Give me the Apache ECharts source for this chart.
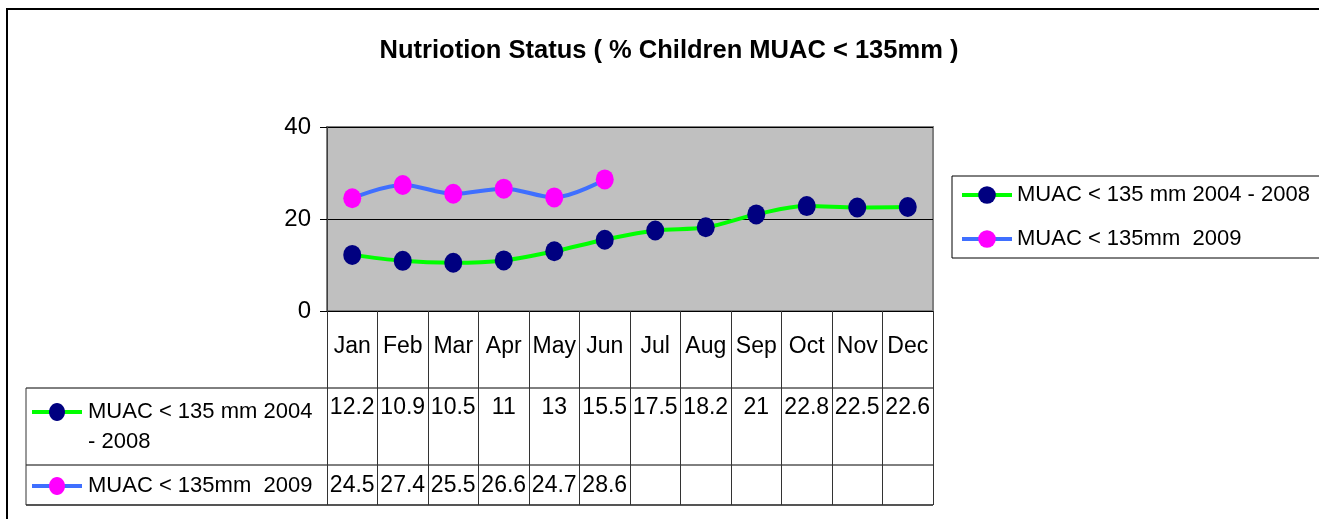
<!DOCTYPE html>
<html>
<head>
<meta charset="utf-8">
<script src="https://cdn.jsdelivr.net/npm/echarts@6/dist/echarts.min.js"></script>
<style>
  html, body { margin: 0; padding: 0; background: #fff; }
  #main { width: 1319px; height: 519px; }
</style>
</head>
<body>
<div id="main"></div>
<script>
var categories = ['Jan', 'Feb', 'Mar', 'Apr', 'May', 'Jun', 'Jul', 'Aug', 'Sep', 'Oct', 'Nov', 'Dec']
var muac20042008 = [12.2, 10.9, 10.5, 11, 13, 15.5, 17.5, 18.2, 21, 22.8, 22.5, 22.6]
var muac2009 = [24.5, 27.4, 25.5, 26.6, 24.7, 28.6]
var seriesNames = ['MUAC < 135 mm 2004 - 2008', 'MUAC < 135mm  2009']
var lineColors = ['#00ff00', '#3f6fff']
var markerColors = ['#000080', '#ff00ff']
var yMin = 0
var yMax = 40
var yStep = 20

var font = 'Liberation Sans, Arial, sans-serif'
var chart = echarts.init(document.getElementById('main'))

function lineSeries (idx, data) {
  return {
    name: seriesNames[idx],
    type: 'line',
    data: data,
    smooth: 0.35,
    symbol: 'circle',
    symbolSize: [18, 20],
    lineStyle: { color: lineColors[idx], width: 4 },
    itemStyle: { color: markerColors[idx] },
    color: markerColors[idx],
    z: idx === 1 ? 4 : 3
  }
}

chart.setOption({
  animation: false,
  title: {
    text: 'Nutriotion Status ( % Children MUAC < 135mm )',
    left: 669,
    textAlign: 'center',
    top: 38,
    padding: 0,
    textStyle: { fontFamily: font, fontSize: 25.5, fontWeight: 'bold', color: '#000' }
  },
  legend: {
    orient: 'vertical',
    left: 952,
    top: 176,
    padding: [8, 10, 8, 8],
    itemGap: 22,
    itemWidth: 50,
    itemHeight: 22,
    borderColor: '#000',
    borderWidth: 1,
    lineStyle: { width: 4 },
    textStyle: { fontFamily: font, fontSize: 22, color: '#000' },
    data: seriesNames
  },
  grid: {
    left: 327,
    top: 127,
    right: 386,
    bottom: 208,
    show: true,
    backgroundColor: '#c0c0c0',
    borderColor: '#808080',
    borderWidth: 2
  },
  xAxis: {
    type: 'category',
    data: categories,
    boundaryGap: true,
    axisLine: { lineStyle: { color: '#000', width: 1 } },
    axisTick: { show: true, interval: 0, length: 194, lineStyle: { color: '#333', width: 1 } },
    axisLabel: { interval: 0, margin: 24, fontFamily: font, fontSize: 23, color: '#000' }
  },
  yAxis: {
    type: 'value',
    min: yMin,
    max: yMax,
    interval: yStep,
    axisLine: { show: true, lineStyle: { color: '#404040', width: 1 } },
    axisTick: { show: true, length: 7, lineStyle: { color: '#000' } },
    axisLabel: { margin: 16, fontFamily: font, fontSize: 24, color: '#000' },
    splitLine: { lineStyle: { color: '#000', width: 1 } }
  },
  series: [lineSeries(0, muac20042008), lineSeries(1, muac2009)]
})

// data table under the plot, built from the same arrays
var tableLeft = 26
var tableRight = 933
var rowTops = [388, 465, 505]
var rowMid = [408, 486]
var tableData = [muac20042008, muac2009]
var g = []

g.push({
  type: 'rect',
  shape: { x: 7, y: 9, width: 1400, height: 600 },
  style: { fill: null, stroke: '#000', lineWidth: 2 },
  silent: true
})

rowTops.forEach(function (y, i) {
  g.push({
    type: 'line',
    shape: { x1: tableLeft, y1: y, x2: tableRight, y2: y },
    style: { stroke: i === 2 ? '#555' : '#000', lineWidth: i === 2 ? 2 : 1 }
  })
})
g.push({
  type: 'line',
  shape: { x1: tableLeft, y1: rowTops[0], x2: tableLeft, y2: rowTops[2] },
  style: { stroke: '#333', lineWidth: 1 }
})

tableData.forEach(function (vals, r) {
  var keyY = r === 0 ? 412 : 486
  g.push({
    type: 'line',
    shape: { x1: 32, y1: keyY, x2: 82, y2: keyY },
    style: { stroke: lineColors[r], lineWidth: 4 }
  })
  g.push({
    type: 'ellipse',
    shape: { cx: 57, cy: keyY, rx: 8, ry: 9 },
    style: { fill: markerColors[r] }
  })
  g.push({
    type: 'text',
    x: 88,
    y: keyY - 15,
    style: {
      text: seriesNames[r],
      width: 236,
      overflow: 'break',
      lineHeight: 30,
      font: '22px ' + font,
      fill: '#000',
      verticalAlign: 'top'
    }
  })
  vals.forEach(function (v, i) {
    var x = chart.convertToPixel({ xAxisIndex: 0 }, i)
    g.push({
      type: 'text',
      x: x,
      y: rowMid[r],
      style: {
        text: String(v),
        font: '23px ' + font,
        fill: '#000',
        align: 'center',
        verticalAlign: 'middle'
      }
    })
  })
})

chart.setOption({ graphic: g })
</script>
</body>
</html>
